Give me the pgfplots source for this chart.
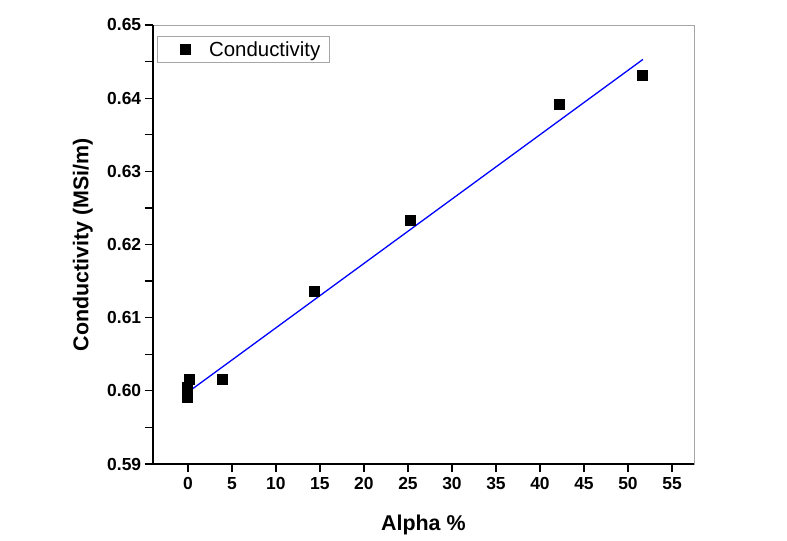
\documentclass[border=0pt]{standalone}
\usepackage{fontspec}
\setmainfont{Liberation Sans}
\usepackage{pgfplots}
\pgfplotsset{compat=1.18}
\begin{document}
\begin{tikzpicture}
\useasboundingbox (0,0) rectangle (787bp,541bp);
\begin{axis}[
  at={(152.7bp,77bp)}, anchor=south west,
  scale only axis, width=541.3bp, height=439bp,
  xmin=-4, xmax=57.5, ymin=0.59, ymax=0.65,
  xtick={0,5,...,55}, ytick={0.59,0.60,...,0.65},
  minor y tick num=1,
  xtick pos=left, ytick pos=left,
  tick align=outside,
  major tick length=8bp, minor tick length=8bp,
  every tick/.style={black, line width=1.3bp},
  axis line style={gray!70, line width=0.8bp},
  /pgf/number format/assume math mode=true,
  yticklabel style={/pgf/number format/.cd, fixed, fixed zerofill, precision=2},
  ticklabel style={font=\fontsize{17.5}{20}\selectfont\bfseries},
  xticklabel style={yshift=-2bp},
  xlabel={Alpha \%}, ylabel={Conductivity (MSi/m)},
  label style={font=\fontsize{21.5}{25}\selectfont\bfseries},
  xlabel style={at={(axis description cs:0.5,-0.139)}, anchor=center},
  ylabel style={at={(axis description cs:-0.129,0.5)}, anchor=center},
  legend style={at={(rel axis cs:0,1)}, anchor=north west, xshift=4.5bp, yshift=-11bp,
    draw=gray!70, line width=0.8bp, font=\fontsize{20.5}{23}\selectfont,
    inner xsep=7bp, inner ysep=3bp},
  legend cell align=left,
  after end axis/.code={
    \draw[black, line width=2bp] (rel axis cs:0,1) -- (rel axis cs:0,0) -- (rel axis cs:1,0);
  },
]
\addplot[only marks, mark=square*, mark size=5bp, black,
  legend image code/.code={\path[draw=none,fill=none] (0cm,-0.1cm) rectangle (1.5cm,0.1cm);
    \draw[mark repeat=2,mark phase=2,##1] plot coordinates {(0cm,0cm) (0.75cm,0cm) (1.5cm,0cm)};}] coordinates {
  (0.1,0.6016) (-0.1,0.6005) (-0.1,0.5999) (-0.1,0.5991)
  (3.9,0.6016) (14.4,0.6136) (25.3,0.6233) (42.2,0.6392) (51.6,0.6432)
};
\addlegendentry{Conductivity}
\addplot[blue, line width=1.3bp, forget plot] coordinates {(0.1,0.5999) (51.7,0.6453)};
\end{axis}
\end{tikzpicture}
\end{document}
